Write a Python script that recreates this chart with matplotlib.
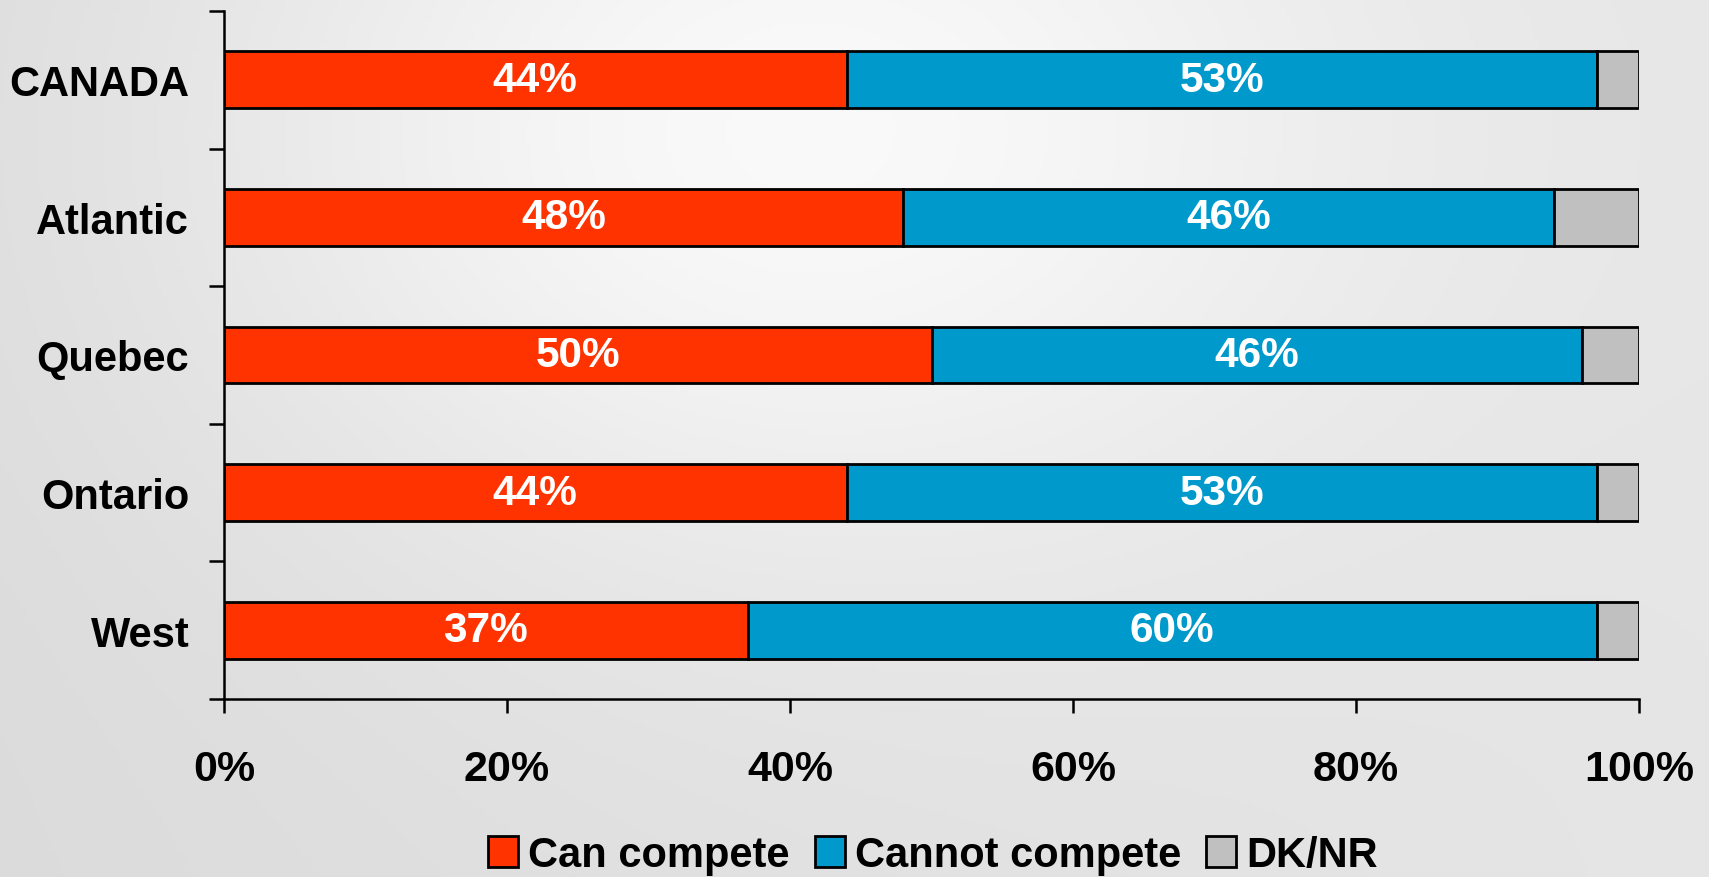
import numpy as np
import matplotlib
matplotlib.use("Agg")
import matplotlib.pyplot as plt
from matplotlib.patches import Patch

categories = ["CANADA", "Atlantic", "Quebec", "Ontario", "West"]
can_compete = [44, 48, 50, 44, 37]
cannot_compete = [53, 46, 46, 53, 60]
dk_nr = [3, 6, 4, 3, 3]
series_names = ["Can compete", "Cannot compete", "DK/NR"]
x_ticks = [0, 20, 40, 60, 80, 100]
x_tick_labels = ["0%", "20%", "40%", "60%", "80%", "100%"]

colors = ["#FF3300", "#0099CC", "#C0C0C0"]
plt.rcParams['font.family'] = ['Liberation Sans', 'DejaVu Sans']
plt.rcParams['font.weight'] = 'bold'

fig = plt.figure(figsize=(17.09, 8.78), dpi=100)
fig.patch.set_facecolor("#e6e6e6")

# soft background gradient
bg = fig.add_axes([0, 0, 1, 1], zorder=-10)
yy, xx = np.mgrid[0:1:200j, 0:1:400j]
g = 0.86 + 0.10 * np.exp(-((xx - 0.45) ** 2 / 0.12 + (yy - 0.15) ** 2 / 0.25)) \
    + 0.04 * xx
g = np.clip(g, 0, 1)
bg.imshow(np.dstack([g, g, g]), aspect='auto', extent=[0, 1, 0, 1], origin='upper')
bg.axis('off')

ax = fig.add_axes([224 / 1709, 1 - 700 / 878, (1639 - 224) / 1709, (700 - 12) / 878])
ax.set_facecolor('none')

y = np.arange(len(categories))
h = 0.414
left = np.zeros(len(categories))
for vals, col, name in zip([can_compete, cannot_compete, dk_nr], colors, series_names):
    bars = ax.barh(y, vals, left=left, height=h, color=col, edgecolor='black',
                   linewidth=2.0, label=name)
    if name != "DK/NR":
        ax.bar_label(bars, labels=[f"{v}%" for v in vals], label_type='center',
                     color='white', fontsize=30.5, fontweight='bold')
    left = left + np.array(vals)

ax.set_xlim(0, 100)
ax.set_ylim(len(categories) - 0.5, -0.5)

ax.set_xticks(x_ticks)
ax.set_xticklabels(x_tick_labels, fontsize=31, fontweight='bold')
ax.tick_params(axis='x', direction='out', length=10, width=1.8, pad=26)

ax.set_yticks(y)
ax.set_yticklabels(categories, fontsize=30, fontweight='bold')
ax.tick_params(axis='y', which='major', length=0, pad=25)
ax.set_yticks(np.arange(len(categories) + 1) - 0.5, minor=True)
ax.tick_params(axis='y', which='minor', direction='out', length=11, width=1.8)

for s in ['top', 'right']:
    ax.spines[s].set_visible(False)
for s in ['left', 'bottom']:
    ax.spines[s].set_linewidth(1.8)

handles = [Patch(facecolor=c, edgecolor='black', linewidth=2.0) for c in colors]
fig.legend(handles, series_names, loc='center', bbox_to_anchor=(933 / 1709, 1 - 856 / 878),
           ncol=3, frameon=False, prop={'size': 30, 'weight': 'bold'},
           handlelength=0.72, handleheight=0.75, handletextpad=0.25, columnspacing=0.6)

fig.savefig("out.png", dpi=100, facecolor=fig.get_facecolor())
